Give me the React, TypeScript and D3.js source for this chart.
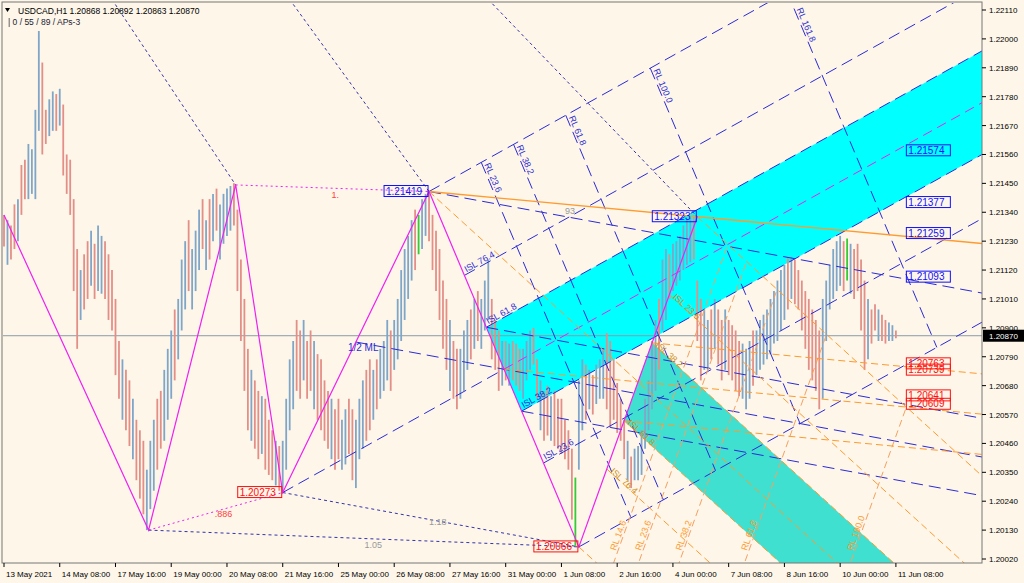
import React from 'react';
import * as d3 from 'd3';

const W = 1024;
const H = 583;

const headerText = 'USDCAD,H1  1.20868 1.20892 1.20863 1.20870';
const subHeaderText = '| 0 / 55 / 89 / APs-3';

const timeLabels = ['13 May 2021', '14 May 08:00', '17 May 16:00', '19 May 00:00', '20 May 08:00', '21 May 16:00', '25 May 00:00', '26 May 08:00', '27 May 16:00', '31 May 00:00', '1 Jun 08:00', '2 Jun 16:00', '4 Jun 00:00', '7 Jun 08:00', '8 Jun 16:00', '10 Jun 00:00', '11 Jun 08:00'];
const timeLabelBars = [0, 32, 64, 96, 128, 160, 192, 224, 256, 288, 320, 352, 384, 416, 448, 480, 512];
const priceTicks = [1.2211, 1.22, 1.2189, 1.2178, 1.2167, 1.2156, 1.2145, 1.2134, 1.2123, 1.2112, 1.2101, 1.209, 1.2079, 1.2068, 1.2057, 1.2046, 1.2035, 1.2024, 1.2013, 1.2002];
const lastPrice = 1.2087;

// H1 bars sampled every 2 hours; highs / lows in pips above 1.20000
const barStep = 2;
const barHigh = [133, 131, 129, 137, 139, 152, 154, 160, 158, 173, 203, 191, 173, 177, 180, 179, 181, 175, 156, 154, 139, 120, 112, 118, 123, 127, 122, 129, 125, 123, 118, 112, 101, 85, 78, 74, 70, 63, 55, 51, 47, 36, 47, 55, 63, 66, 74, 82, 89, 97, 101, 116, 123, 131, 120, 127, 135, 139, 131, 139, 141, 143, 137, 141, 143, 144, 145, 135, 116, 101, 82, 74, 70, 66, 64, 63, 55, 51, 47, 45, 47, 63, 78, 85, 93, 89, 93, 85, 89, 85, 80, 78, 70, 66, 63, 59, 63, 55, 59, 63, 59, 55, 63, 70, 74, 78, 74, 78, 82, 85, 93, 89, 93, 101, 112, 120, 125, 131, 135, 133, 139, 141, 142, 133, 127, 120, 108, 101, 93, 85, 82, 82, 89, 93, 97, 101, 104, 101, 108, 116, 101, 93, 89, 85, 85, 84, 85, 84, 82, 82, 85, 89, 90, 78, 70, 66, 68, 64, 66, 63, 63, 55, 51, 44, 33, 70, 78, 76, 74, 72, 76, 78, 82, 88, 85, 78, 69, 63, 55, 47, 41, 44, 45, 51, 63, 70, 85, 93, 101, 116, 120, 118, 122, 123, 125, 129, 131, 132, 133, 108, 101, 97, 93, 97, 101, 97, 93, 97, 93, 91, 89, 85, 84, 82, 85, 89, 89, 93, 95, 97, 101, 104, 108, 112, 114, 117, 117, 116, 112, 108, 104, 101, 97, 93, 89, 101, 108, 114, 120, 123, 125, 123, 124, 122, 120, 122, 116, 108, 101, 97, 99, 97, 95, 93, 92, 91, 89];
const barLow = [121, 114, 116, 120, 123, 133, 139, 139, 141, 139, 165, 156, 160, 163, 165, 165, 167, 148, 141, 133, 104, 82, 93, 97, 101, 106, 101, 104, 103, 101, 93, 89, 72, 63, 55, 51, 45, 40, 32, 25, 19, 13, 21, 28, 36, 44, 47, 55, 63, 70, 78, 89, 97, 104, 97, 104, 112, 120, 112, 116, 123, 127, 116, 122, 125, 127, 129, 104, 85, 66, 51, 47, 44, 40, 42, 36, 34, 32, 30, 28, 27, 36, 51, 59, 66, 63, 70, 63, 66, 59, 55, 51, 47, 44, 40, 36, 40, 36, 38, 42, 32, 29, 40, 44, 47, 51, 55, 59, 63, 66, 70, 66, 74, 78, 85, 93, 101, 108, 112, 118, 120, 125, 123, 112, 104, 93, 82, 74, 66, 63, 59, 63, 66, 74, 78, 82, 85, 82, 89, 93, 78, 74, 66, 68, 70, 68, 70, 68, 66, 63, 70, 74, 76, 63, 51, 47, 49, 47, 45, 44, 42, 40, 36, 17, 7, 36, 51, 55, 59, 57, 61, 63, 63, 59, 52, 55, 50, 47, 40, 32, 29, 32, 32, 34, 44, 51, 59, 66, 74, 89, 93, 101, 104, 106, 108, 112, 114, 115, 116, 85, 70, 74, 74, 78, 82, 76, 70, 74, 72, 70, 66, 64, 63, 59, 63, 68, 72, 74, 76, 78, 80, 84, 85, 89, 93, 97, 101, 99, 97, 89, 82, 74, 70, 66, 59, 63, 85, 97, 101, 104, 106, 104, 108, 103, 101, 104, 89, 74, 78, 84, 89, 85, 85, 84, 85, 85, 86];
const barDir = 'duddudduuu' + 'udduududdd' + 'ddudduduud' + 'dddduddudd' + 'duuudduuud' + 'uuuduuudud' + 'uduuuudddd' + 'duddudddud' + 'uuuudduddu' + 'ddddudduud' + 'duuudduduu' + 'uduuuuuudg' + 'uuddddddud' + 'duuududuuu' + 'dddududddu' + 'uudduddudd' + 'ddddguudud' + 'uuuddddddu' + 'duuuuuuudu' + 'uduuuuuudd' + 'duududdudd' + 'dduuuduuuu' + 'uuuuududdd' + 'ddddduuuuu' + 'udguddddud' + 'dudduud';

// zigzag pivots (bar index, price)
const zigBars = [0, 83, 133, 160, 244, 330, 398];
const zigPrices = [1.2133, 1.2013, 1.21444, 1.20273, 1.21419, 1.20066, 1.21323];

// dotted guide lines entering from the top edge: [bar at top, target pivot index]
const topDotStartBars = [62, 164, 278];
const topDotStartPrice = 1.2215;
const topDotTargets = [2, 4, 6];

const islLevels = [0.236, 0.382, 0.618, 0.764];
const schiffLevels = [0.382, 0.618];
const blueRlLevels = [0.236, 0.382, 0.618, 1.0, 1.618];
const orangeRlLevels = [0.146, 0.236, 0.382, 0.618, 1.0];

const rightBlueLabels = [1.21574, 1.21377, 1.21259, 1.21093];
const rightRedLabels = [1.20763, 1.20739, 1.20641, 1.20609];
const rightLabelBar = 518;

type P = [number, number];

export default function App() {
  const x = d3.scaleLinear().domain([0, 562]).range([4, 983]);
  const y = d3.scaleLinear().domain([1.2211, 1.2002]).range([10, 559]);
  const L = 3, T = 3, R = 982, B = 563;
  const font = 'Liberation Sans, Arial, sans-serif';

  const pip = (v: number) => 1.2 + v / 10000;
  const zig: P[] = zigBars.map((b, i) => [b, zigPrices[i]]);
  const sx = (p: P) => x(p[0]);
  const sy = (p: P) => y(p[1]);
  const add = (p: P, d: P, t: number): P => [p[0] + d[0] * t, p[1] + d[1] * t];
  const lerp = (a: P, b: P, f: number): P => [a[0] + (b[0] - a[0]) * f, a[1] + (b[1] - a[1]) * f];
  const sub = (a: P, b: P): P => [a[0] - b[0], a[1] - b[1]];
  const ext = (p: P, d: P): P => add(p, d, (640 - p[0]) / d[0]);
  const ang = (d: P) => (Math.atan2(y(d[1]) - y(0), x(d[0]) - x(0)) * 180) / Math.PI;
  const seg = (a: P, b: P) => `M${sx(a)},${sy(a)}L${sx(b)},${sy(b)}`;
  const poly = (pts: P[]) => 'M' + pts.map((p) => `${sx(p)},${sy(p)}`).join('L') + 'Z';

  const [A, Bp, C, D] = [zig[3], zig[4], zig[5], zig[6]];
  // blue Andrews pitchfork (A, B, C)
  const m1 = lerp(Bp, C, 0.5);
  const d1 = sub(m1, A);
  const isl1 = islLevels.map((f) => lerp(C, Bp, f));
  const halfAB = lerp(A, Bp, 0.5);
  const s1 = sub(m1, halfAB); // modified Schiff direction
  // orange Andrews pitchfork (B, C, D)
  const m2 = lerp(C, D, 0.5);
  const d2 = sub(m2, Bp);
  const isl2 = islLevels.map((f) => lerp(D, C, f));
  const s2 = sub(m2, m1);

  const blue = '#2b2bd6';
  const orange = '#ff9a2e';
  const magenta = '#f020f0';
  const dashBlue = '12 6';
  const dashOr = '7 4';

  const lines: { d: string; c: string; dash?: string; w?: number }[] = [];
  lines.push({ d: seg(A, m1), c: blue, dash: dashBlue });
  lines.push({ d: seg(m1, ext(m1, d1)), c: magenta, dash: '10 6' });
  lines.push({ d: seg(Bp, ext(Bp, d1)), c: blue, dash: dashBlue });
  lines.push({ d: seg(C, ext(C, d1)), c: blue, dash: dashBlue });
  isl1.forEach((p) => lines.push({ d: seg(p, ext(p, d1)), c: blue, dash: dashBlue }));
  blueRlLevels.forEach((r) => lines.push({ d: seg(add(Bp, d1, r), add(C, d1, r)), c: blue, dash: dashBlue }));
  // blue Schiff lines
  lines.push({ d: seg(halfAB, ext(halfAB, s1)), c: blue, dash: dashBlue });
  lines.push({ d: seg(Bp, ext(Bp, s1)), c: blue, dash: dashBlue });
  schiffLevels.forEach((f) => { const p = lerp(C, Bp, f); lines.push({ d: seg(p, ext(p, s1)), c: blue, dash: dashBlue }); });
  // orange fork
  lines.push({ d: seg(Bp, ext(Bp, d2)), c: orange, dash: dashOr });
  lines.push({ d: seg(D, ext(D, d2)), c: orange, dash: dashOr });
  lines.push({ d: seg(C, ext(C, d2)), c: orange, dash: dashOr });
  isl2.forEach((p) => lines.push({ d: seg(p, ext(p, d2)), c: orange, dash: dashOr }));
  orangeRlLevels.forEach((r) => lines.push({ d: seg(add(C, d2, r), add(D, d2, r)), c: '#f5a060', dash: dashOr }));
  // orange Schiff lines
  lines.push({ d: seg(m1, ext(m1, s2)), c: orange, dash: dashOr });
  schiffLevels.forEach((f) => { const p = lerp(D, C, f); lines.push({ d: seg(p, ext(p, s2)), c: orange, dash: dashOr }); });
  // B -> D extension
  lines.push({ d: seg(Bp, ext(Bp, sub(D, Bp))), c: orange, w: 1.3 });
  lines.push({ d: seg(zig[1], zig[3]), c: magenta, dash: '2 3' });
  lines.push({ d: seg(zig[2], zig[4]), c: magenta, dash: '2 3' });
  lines.push({ d: seg(zig[1], zig[5]), c: '#3333aa', dash: '3 3' });
  lines.push({ d: seg(zig[3], zig[5]), c: '#3333aa', dash: '3 3' });
  topDotStartBars.forEach((b, i) => lines.push({ d: seg([b, topDotStartPrice], zig[topDotTargets[i]]), c: '#3333aa', dash: '3 3' }));

  const zigPath = d3.line<P>().x(sx).y(sy)(zig) || '';

  const cyanPoly = poly([isl1[2], ext(isl1[2], d1), ext(isl1[1], d1), isl1[1]]);
  const tealPoly = poly([isl2[1], ext(isl2[1], d2), ext(isl2[2], d2), isl2[2]]);

  const box = (bar: number, price: number, col: string, alignRight: boolean, key: string) => {
    const bx = alignRight ? x(bar) - 45 : x(bar);
    const by = y(price) - 6;
    return (
      <g key={key}>
        <rect x={bx} y={by} width={44} height={11} fill="none" stroke={col} strokeWidth={1} />
        <text x={bx + 2} y={by + 9} fontSize={10} fill={col} fontFamily={font}>{price.toFixed(5)}</text>
      </g>
    );
  };

  const a1 = ang(d1);
  const aBC = ang(sub(C, Bp));
  const a2 = ang(d2);
  const aCD = ang(sub(D, C));

  return (
    <div style={{ position: 'fixed', left: 0, top: 0 }}>
      <svg width={W} height={H} style={{ display: 'block', background: '#fdf6e9' }}>
        <defs>
          <clipPath id="plot"><rect x={L} y={T} width={R - L} height={B - T} /></clipPath>
        </defs>
        <rect x={0} y={0} width={W} height={H} fill="#fdf6e9" />
        <g clipPath="url(#plot)">
          <path d={cyanPoly} fill="#00ffff" />
          <path d={tealPoly} fill="#40e0d0" />
          <line x1={L} x2={R} y1={y(lastPrice)} y2={y(lastPrice)} stroke="#8a9aaa" strokeWidth={1} />
          {barHigh.map((h, i) => {
            const c = barDir[i] === 'u' ? '#7fa6c9' : barDir[i] === 'g' ? '#33cc33' : '#e38f88';
            return <line key={i} x1={x(i * barStep)} x2={x(i * barStep)} y1={y(pip(h))} y2={y(pip(barLow[i]))} stroke={c} strokeWidth={1.8} />;
          })}
          {lines.map((l, i) => (
            <path key={i} d={l.d} stroke={l.c} strokeWidth={l.w || 1} strokeDasharray={l.dash} fill="none" />
          ))}
          <path d={zigPath} stroke={magenta} strokeWidth={1.2} fill="none" />
          {islLevels.map((f, i) => {
            const p = isl1[i];
            return <text key={'i1' + i} transform={`translate(${sx(p) + 2},${sy(p) - 3}) rotate(${a1})`} fontSize={9} fill={blue} fontFamily={font}>{`ISL ${(f * 100).toFixed(1)}`}</text>;
          })}
          {islLevels.map((f, i) => {
            const p = isl2[i];
            return <text key={'i2' + i} transform={`translate(${sx(p) + 3},${sy(p) + 3}) rotate(${a2})`} fontSize={9} fill="#d09020" fontFamily={font}>{`ISL ${(f * 100).toFixed(1)}`}</text>;
          })}
          {blueRlLevels.map((r, i) => {
            const p0 = add(Bp, d1, r);
            const p1 = add(C, d1, r);
            const top = y(1.2212);
            const f = Math.max(0, (top - sy(p0)) / (sy(p1) - sy(p0)));
            const p = lerp(p0, p1, f);
            return <text key={'r1' + i} transform={`translate(${sx(p) + 3},${sy(p) + 2}) rotate(${aBC})`} fontSize={9} fill={blue} fontFamily={font}>{`RL ${(r * 100).toFixed(1)}`}</text>;
          })}
          {orangeRlLevels.map((r, i) => {
            const p0 = add(C, d2, r);
            const p1 = add(D, d2, r);
            const f = (y(1.2005) - sy(p0)) / (sy(p1) - sy(p0));
            const p = lerp(p0, p1, f);
            return <text key={'r2' + i} transform={`translate(${sx(p) - 2},${sy(p)}) rotate(${aCD})`} fontSize={9} fill={orange} fontFamily={font}>{`RL ${(r * 100).toFixed(1)}`}</text>;
          })}
          <text x={sx(halfAB) - 8} y={sy(halfAB) + 9} fontSize={10} fill={blue} fontFamily={font}>1/2 ML</text>
          <text x={x(121)} y={y(1.2018)} fontSize={9} fill="#ff4040" fontFamily={font}>.886</text>
          <text x={x(188)} y={y(1.21395)} fontSize={9} fill="#ff4040" fontFamily={font}>1.</text>
          <text x={x(207)} y={y(1.20062)} fontSize={9} fill="#999" fontFamily={font}>1.05</text>
          <text x={x(244)} y={y(1.20148)} fontSize={9} fill="#999" fontFamily={font}>1.18</text>
          <text x={x(322)} y={y(1.21334)} fontSize={9} fill="#999" fontFamily={font}>93</text>
          {box(Bp[0], Bp[1], '#1010ff', true, 'bB')}
          {box(D[0], D[1], '#1010ff', true, 'bD')}
          {box(A[0], A[1], '#ff1010', true, 'bA')}
          {box(C[0], C[1], '#ff1010', true, 'bC')}
          {rightBlueLabels.map((p, i) => box(rightLabelBar, p, '#1010ff', false, 'rb' + i))}
          {rightRedLabels.map((p, i) => box(rightLabelBar, p, '#ff1010', false, 'rr' + i))}
        </g>
        <rect x={L - 1} y={T - 1} width={R - L + 1} height={B - T + 1} fill="none" stroke="#777" strokeWidth={1} />
        {priceTicks.map((p, i) => (
          <g key={'pt' + i}>
            <line x1={R} x2={R + 4} y1={y(p)} y2={y(p)} stroke="#000" />
            <text x={R + 7} y={y(p) + 3} fontSize={8} fill="#000" fontFamily={font}>{p.toFixed(5)}</text>
          </g>
        ))}
        <rect x={R + 1} y={y(lastPrice) - 6} width={W - R} height={12} fill="#000" />
        <text x={R + 7} y={y(lastPrice) + 3} fontSize={8} fill="#fff" fontFamily={font}>{lastPrice.toFixed(5)}</text>
        {timeLabels.map((t, i) => (
          <g key={'tl' + i}>
            <line x1={x(timeLabelBars[i])} x2={x(timeLabelBars[i])} y1={B} y2={B + 4} stroke="#000" />
            <text x={x(timeLabelBars[i]) + 2} y={B + 14} fontSize={8} fill="#000" fontFamily={font}>{t}</text>
          </g>
        ))}
        <path d="M5,8L10,8L7.5,12Z" fill="#000" />
        <text x={18} y={14} fontSize={8.5} fill="#000" fontFamily={font}>{headerText}</text>
        <text x={8} y={25} fontSize={8.5} fill="#223" fontFamily={font}>{subHeaderText}</text>
      </svg>
    </div>
  );
}
